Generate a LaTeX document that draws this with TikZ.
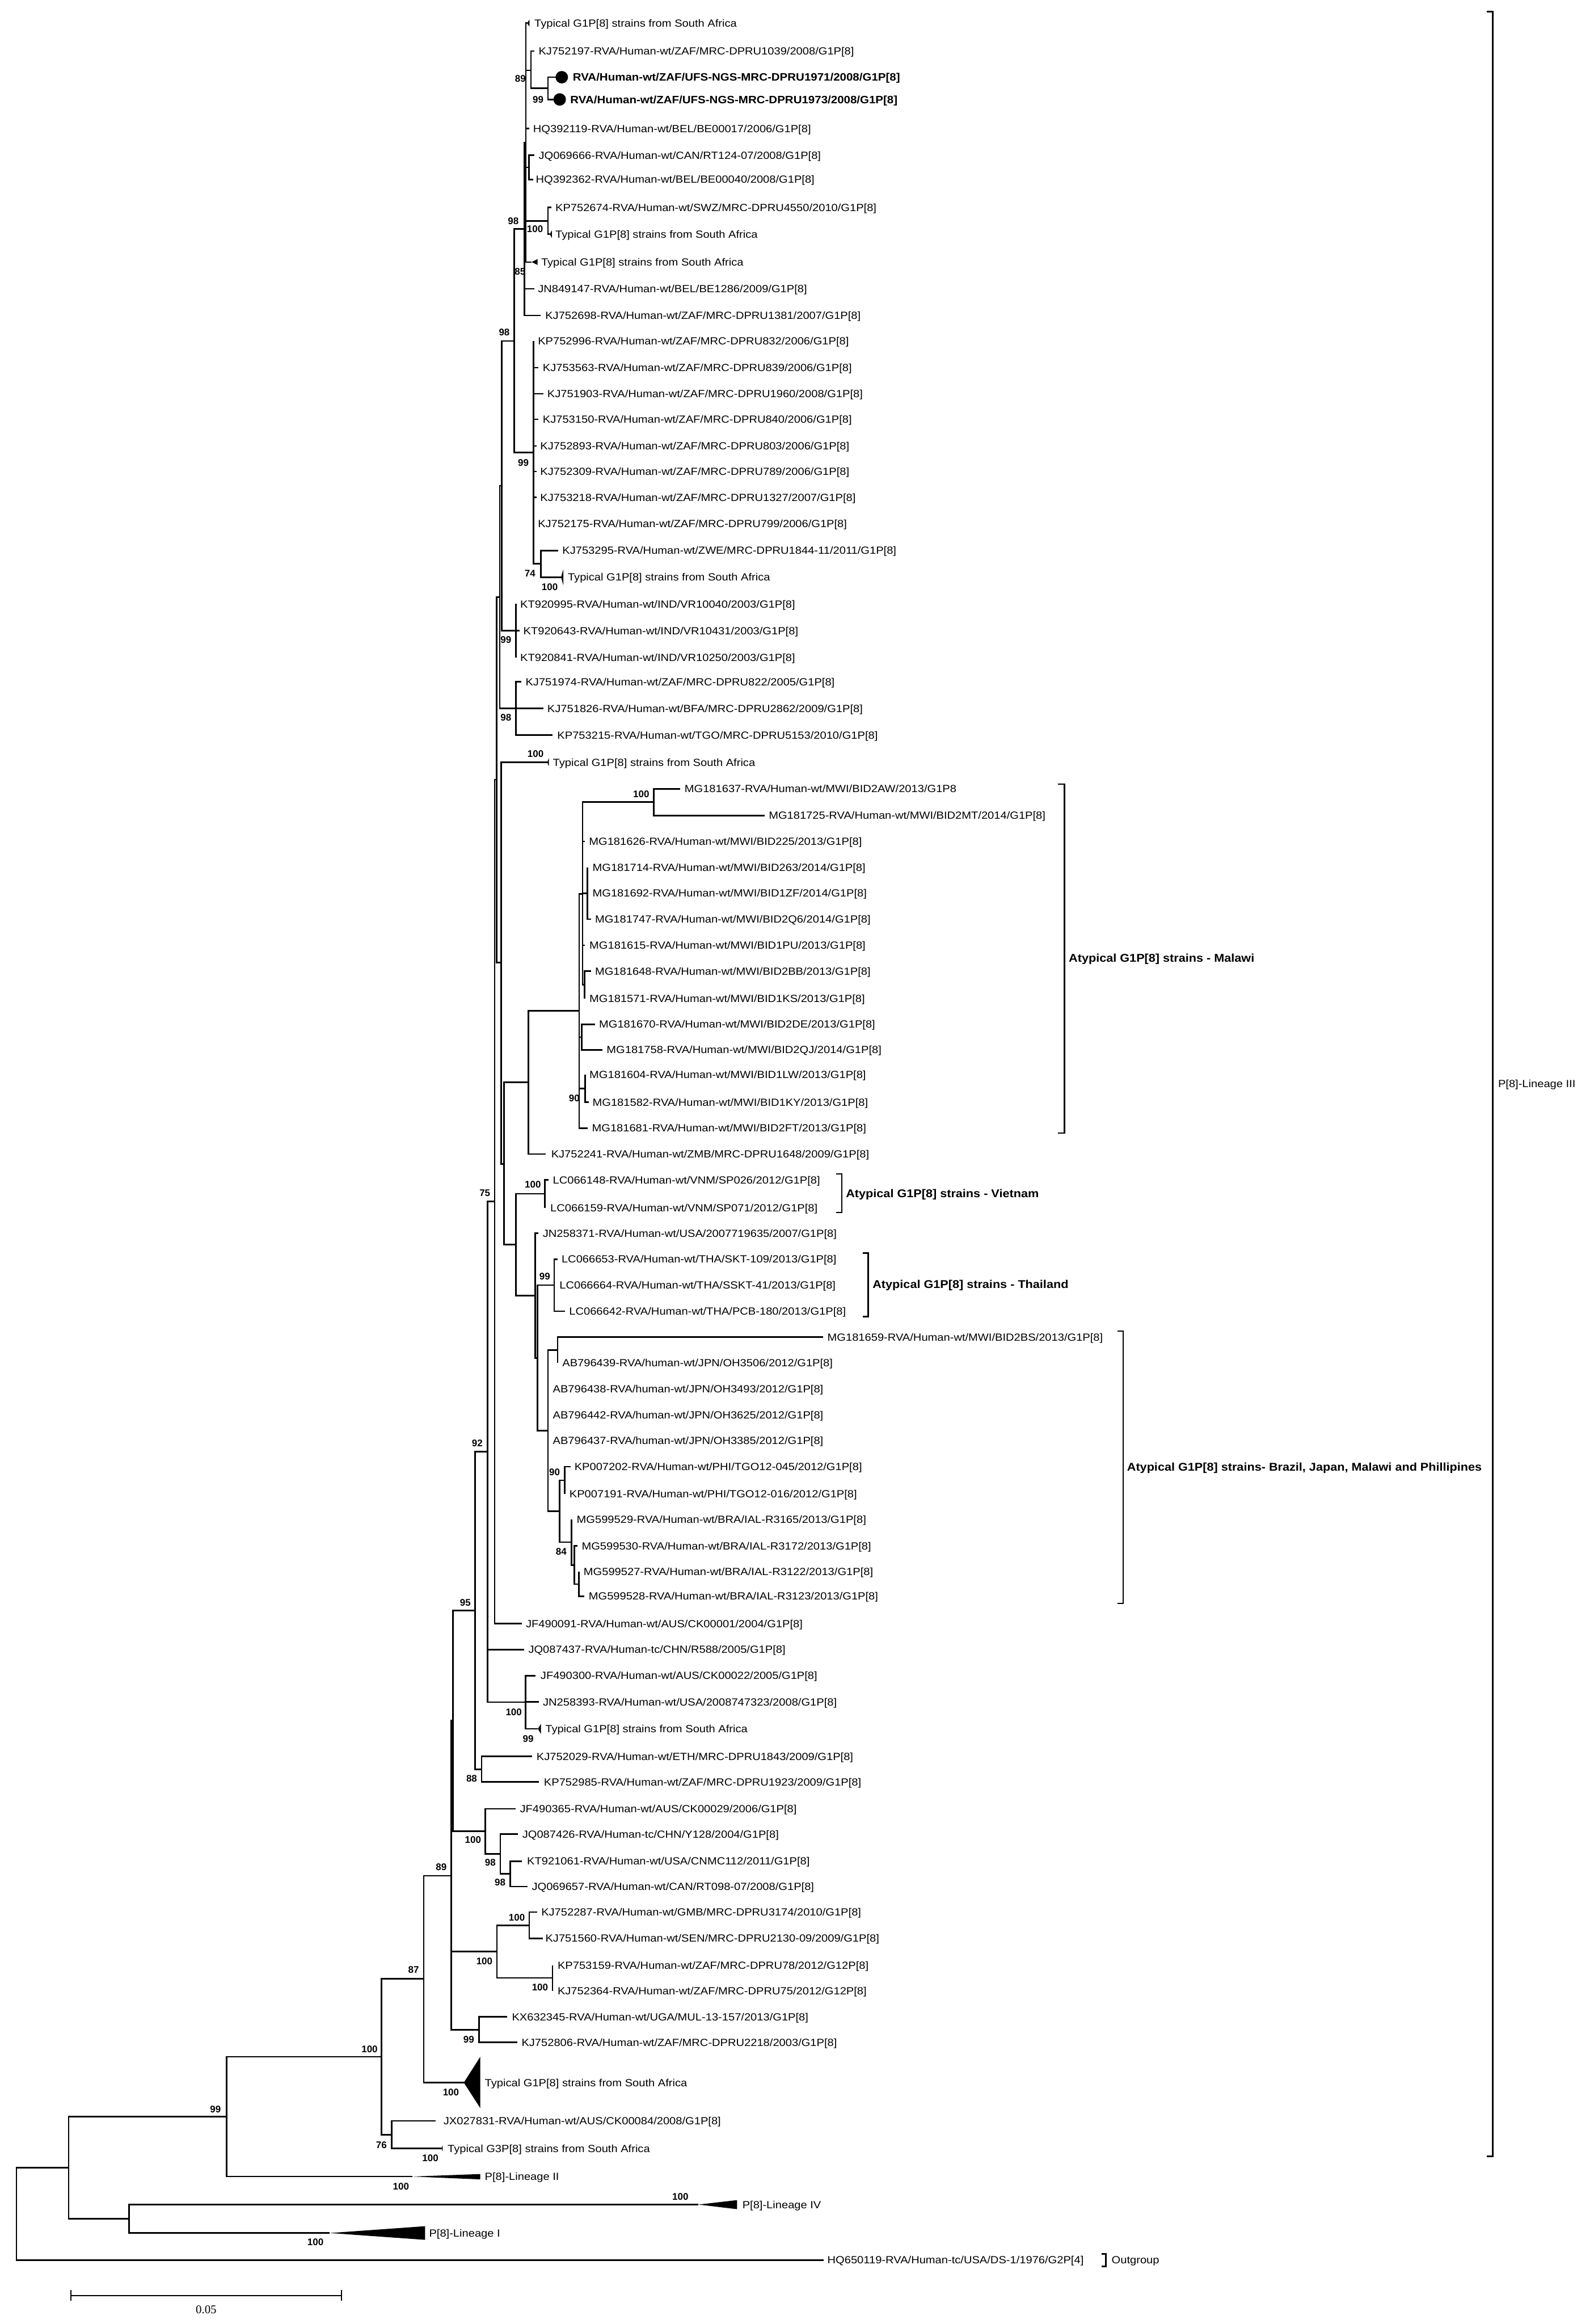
\documentclass[tikz,border=0pt]{standalone}
\usepackage{fontspec}
\setmainfont{Liberation Sans}
\newfontfamily\lfam[FakeStretch=1.1]{Liberation Sans}
\newfontfamily\bfam[FakeStretch=1.09]{Liberation Sans}
\newfontfamily\serfam{Liberation Serif}
\newcommand\leaffont{\lfam\fontsize{7}{8}\selectfont}
\newcommand\cladefont{\bfam\bfseries\fontsize{7.6}{9}\selectfont}
\newcommand\dotfont{\bfam\bfseries\fontsize{7.2}{9}\selectfont}
\newcommand\bsfont{\normalfont\bfseries\fontsize{6.5}{7}\selectfont}
\newcommand\Nd[3]{\coordinate (#1) at (#2,#3);}
\newcommand\Lf[5]{\coordinate (t#1) at (#2,#3);\node[leaflab] (l#1) at (#4,#3) {#5};}
\newcommand\Br[2]{\foreach \cc in {#2}{\draw[br] (#1) |- (\cc);}}
\newcommand\Tri[4]{\fill[tri] (t#1) -- (#2,#3) -- (#2,#4) -- cycle;}
\newcommand\Bs[4]{\node[bs] (#1) at (#2,#3) {#4};}
\begin{document}
\begin{tikzpicture}[x=1pt,y=-1pt,
 br/.style={line width=1pt, line join=miter},
 leaflab/.style={anchor=base west, inner sep=0pt, yshift=-2.5pt, font=\leaffont},
 cladelab/.style={anchor=base west, inner sep=0pt, yshift=-2.7pt, font=\cladefont},
 dotlab/.style={anchor=base west, inner sep=0pt, yshift=-2.6pt, font=\dotfont},
 bs/.style={inner sep=0pt, font=\bsfont},
 tri/.style={black},
 brk/.style={line width=1pt},
 dotc/.style={circle, fill=black, inner sep=0pt, minimum size=8.4pt}]
\useasboundingbox (0,0) rectangle (1075.7,1568);
% ---------- internal nodes ----------
\Nd{A}{354.9}{96.2}
\Nd{n89}{358.3}{47.5}
\Nd{n99a}{369.8}{59.6}
\Nd{nJQ}{356.9}{113}
\Nd{n100a}{369.8}{149}
\Nd{B}{353.8}{154.5}
\Nd{C}{347}{230}
\Nd{D}{360}{305.2}
\Nd{n74}{365}{380.4}
\Nd{E}{338.6}{327.7}
\Nd{nIND}{348.1}{425.5}
\Nd{F}{337.2}{402.8}
\Nd{n98c}{348.1}{478}
\Nd{G}{335.2}{526}
\Nd{I}{338.3}{649.4}
\Nd{K}{340.2}{785.3}
\Nd{H}{356.6}{730.3}
\Nd{M1}{390.9}{681.9}
\Nd{M2}{393.1}{603}
\Nd{n100m}{441.3}{541.2}
\Nd{n714}{396.5}{602.7}
\Nd{n648}{394.5}{664.4}
\Nd{n670}{392.6}{699.7}
\Nd{n90b}{394.8}{734.4}
\Nd{J}{348.1}{839.6}
\Nd{nVN}{367.8}{805.5}
\Nd{N}{361.1}{874.2}
\Nd{O}{362.8}{916.2}
\Nd{nTH}{374}{867.1}
\Nd{P}{369.8}{965.3}
\Nd{Q}{376.3}{910.85}
\Nd{R}{377.7}{1019.7}
\Nd{S}{381.1}{998.8}
\Nd{T}{385.6}{1040.4}
\Nd{U}{387.5}{1055.9}
\Nd{V}{390.7}{1068.75}
\Nd{L}{333.8}{810.5}
\Nd{W}{329}{979.5}
\Nd{X}{354.7}{1148.4}
\Nd{Y2}{320.6}{1086.6}
\Nd{n88}{325}{1193.7}
\Nd{Zn}{305.6}{1160.9}
\Nd{n100j}{327.4}{1235.6}
\Nd{n98a}{337.6}{1250.9}
\Nd{n98b}{344.3}{1264.2}
\Nd{Zp}{304.5}{1265.5}
\Nd{nGMB}{335.4}{1316.6}
\Nd{n100ga}{357.1}{1299}
\Nd{n100gb}{372.9}{1334.5}
\Nd{nKX}{323.2}{1369.4}
\Nd{AA}{286}{1335}
\Nd{AB}{257.4}{1387.7}
\Nd{n76}{264.3}{1440.3}
\Nd{AC}{153}{1428}
\Nd{AE}{87}{1497}
\Nd{AD}{46.3}{1462.4}
\Nd{root}{11.1}{1493.65}
% ---------- leaves ----------
\Lf{typA}{355.6}{15.6}{360.5}{Typical G1P[8] strains from South Africa}
\Lf{kj197}{360.5}{34.4}{363.3}{KJ752197-RVA/Human-wt/ZAF/MRC-DPRU1039/2008/G1P[8]}
\coordinate (td1971) at (375,52.1);
\coordinate (td1973) at (373.5,67.1);
\node[dotc] (c1971) at (379.1,52.1) {};
\node[dotc] (c1973) at (377.7,67.1) {};
\node[dotlab] (ld1971) at (386.4,52.1) {RVA/Human-wt/ZAF/UFS-NGS-MRC-DPRU1971/2008/G1P[8]};
\node[dotlab] (ld1973) at (384.7,67.1) {RVA/Human-wt/ZAF/UFS-NGS-MRC-DPRU1973/2008/G1P[8]};
\Lf{hq119}{357.1}{86.8}{359.6}{HQ392119-RVA/Human-wt/BEL/BE00017/2006/G1P[8]}
\Lf{jq666}{360.5}{104.8}{363.3}{JQ069666-RVA/Human-wt/CAN/RT124-07/2008/G1P[8]}
\Lf{hq362}{359.9}{121.1}{361.4}{HQ392362-RVA/Human-wt/BEL/BE00040/2008/G1P[8]}
\Lf{kp674}{372.1}{140}{374.6}{KP752674-RVA/Human-wt/SWZ/MRC-DPRU4550/2010/G1P[8]}
\Lf{typB}{371.0}{158}{374.6}{Typical G1P[8] strains from South Africa}
\Lf{typC}{358.8}{176.8}{365}{Typical G1P[8] strains from South Africa}
\Lf{jn147}{360.5}{194.8}{362.8}{JN849147-RVA/Human-wt/BEL/BE1286/2009/G1P[8]}
\Lf{kj698}{365}{212.8}{367.8}{KJ752698-RVA/Human-wt/ZAF/MRC-DPRU1381/2007/G1P[8]}
\Lf{kp996}{360}{230}{362.8}{KP752996-RVA/Human-wt/ZAF/MRC-DPRU832/2006/G1P[8]}
\Lf{kj563}{363.3}{248}{366.1}{KJ753563-RVA/Human-wt/ZAF/MRC-DPRU839/2006/G1P[8]}
\Lf{kj903}{366.7}{265.7}{369.2}{KJ751903-RVA/Human-wt/ZAF/MRC-DPRU1960/2008/G1P[8]}
\Lf{kj150}{363.3}{282.9}{366.1}{KJ753150-RVA/Human-wt/ZAF/MRC-DPRU840/2006/G1P[8]}
\Lf{kj893}{362.2}{300.9}{364.4}{KJ752893-RVA/Human-wt/ZAF/MRC-DPRU803/2006/G1P[8]}
\Lf{kj309}{362.2}{318.1}{364.4}{KJ752309-RVA/Human-wt/ZAF/MRC-DPRU789/2006/G1P[8]}
\Lf{kj218}{362.2}{335.6}{364.4}{KJ753218-RVA/Human-wt/ZAF/MRC-DPRU1327/2007/G1P[8]}
\Lf{kj175}{360}{353.3}{362.8}{KJ752175-RVA/Human-wt/ZAF/MRC-DPRU799/2006/G1P[8]}
\Lf{kj295}{376.8}{371.4}{379.3}{KJ753295-RVA/Human-wt/ZWE/MRC-DPRU1844-11/2011/G1P[8]}
\Lf{typD}{378.6}{389.4}{383}{Typical G1P[8] strains from South Africa}
\Lf{kt995}{348.1}{407.5}{350.9}{KT920995-RVA/Human-wt/IND/VR10040/2003/G1P[8]}
\Lf{kt643}{350.6}{425.5}{353}{KT920643-RVA/Human-wt/IND/VR10431/2003/G1P[8]}
\Lf{kt841}{348.1}{443.6}{350.9}{KT920841-RVA/Human-wt/IND/VR10250/2003/G1P[8]}
\Lf{kj974}{351.8}{460}{354.5}{KJ751974-RVA/Human-wt/ZAF/MRC-DPRU822/2005/G1P[8]}
\Lf{kj826}{366.7}{478}{369.2}{KJ751826-RVA/Human-wt/BFA/MRC-DPRU2862/2009/G1P[8]}
\Lf{kp215}{372.9}{496}{375.9}{KP753215-RVA/Human-wt/TGO/MRC-DPRU5153/2010/G1P[8]}
\Lf{typE}{369.3}{514.3}{372.9}{Typical G1P[8] strains from South Africa}
\Lf{mg637}{459}{532.2}{461.8}{MG181637-RVA/Human-wt/MWI/BID2AW/2013/G1P8}
\Lf{mg725}{516.2}{550.2}{518.6}{MG181725-RVA/Human-wt/MWI/BID2MT/2014/G1P[8]}
\Lf{mg626}{394.8}{567.7}{397.3}{MG181626-RVA/Human-wt/MWI/BID225/2013/G1P[8]}
\Lf{mg714}{396.5}{585.2}{399.7}{MG181714-RVA/Human-wt/MWI/BID263/2014/G1P[8]}
\Lf{mg692}{396.5}{602.4}{399.7}{MG181692-RVA/Human-wt/MWI/BID1ZF/2014/G1P[8]}
\Lf{mg747}{398.8}{620.2}{401.4}{MG181747-RVA/Human-wt/MWI/BID2Q6/2014/G1P[8]}
\Lf{mg615}{394.8}{637.7}{397.6}{MG181615-RVA/Human-wt/MWI/BID1PU/2013/G1P[8]}
\Lf{mg648}{398.8}{655.2}{401.4}{MG181648-RVA/Human-wt/MWI/BID2BB/2013/G1P[8]}
\Lf{mg571}{394.5}{673.6}{397.6}{MG181571-RVA/Human-wt/MWI/BID1KS/2013/G1P[8]}
\Lf{mg670}{401.6}{691.1}{404.1}{MG181670-RVA/Human-wt/MWI/BID2DE/2013/G1P[8]}
\Lf{mg758}{406.6}{708.3}{409.2}{MG181758-RVA/Human-wt/MWI/BID2QJ/2014/G1P[8]}
\Lf{mg604}{394.8}{725.2}{397.6}{MG181604-RVA/Human-wt/MWI/BID1LW/2013/G1P[8]}
\Lf{mg582}{397.2}{743.6}{399.7}{MG181582-RVA/Human-wt/MWI/BID1KY/2013/G1P[8]}
\Lf{mg681}{396.5}{761.1}{399.3}{MG181681-RVA/Human-wt/MWI/BID2FT/2013/G1P[8]}
\Lf{kj241}{368.4}{778.6}{371.8}{KJ752241-RVA/Human-wt/ZMB/MRC-DPRU1648/2009/G1P[8]}
\Lf{lc148}{370.1}{796.1}{372.9}{LC066148-RVA/Human-wt/VNM/SP026/2012/G1P[8]}
\Lf{lc159}{367.8}{815}{371.2}{LC066159-RVA/Human-wt/VNM/SP071/2012/G1P[8]}
\Lf{jn371}{363.3}{832.1}{366.1}{JN258371-RVA/Human-wt/USA/2007719635/2007/G1P[8]}
\Lf{lc653}{376.3}{849.6}{378.8}{LC066653-RVA/Human-wt/THA/SKT-109/2013/G1P[8]}
\Lf{lc664}{374}{867.1}{377.4}{LC066664-RVA/Human-wt/THA/SSKT-41/2013/G1P[8]}
\Lf{lc642}{381.1}{884.6}{383.9}{LC066642-RVA/Human-wt/THA/PCB-180/2013/G1P[8]}
\Lf{mg659}{555.5}{902.1}{558.2}{MG181659-RVA/Human-wt/MWI/BID2BS/2013/G1P[8]}
\Lf{ab439}{376.3}{919.6}{379.3}{AB796439-RVA/human-wt/JPN/OH3506/2012/G1P[8]}
\Lf{ab438}{369.8}{937.1}{372.9}{AB796438-RVA/human-wt/JPN/OH3493/2012/G1P[8]}
\Lf{ab442}{369.8}{954.6}{372.9}{AB796442-RVA/human-wt/JPN/OH3625/2012/G1P[8]}
\Lf{ab437}{369.8}{972.1}{372.9}{AB796437-RVA/human-wt/JPN/OH3385/2012/G1P[8]}
\Lf{kp202}{385}{989.6}{387.5}{KP007202-RVA/Human-wt/PHI/TGO12-045/2012/G1P[8]}
\Lf{kp191}{381.1}{1008}{384.1}{KP007191-RVA/Human-wt/PHI/TGO12-016/2012/G1P[8]}
\Lf{mg529}{385.6}{1025}{389}{MG599529-RVA/Human-wt/BRA/IAL-R3165/2013/G1P[8]}
\Lf{mg530}{389.7}{1043}{392.4}{MG599530-RVA/Human-wt/BRA/IAL-R3172/2013/G1P[8]}
\Lf{mg527}{390.7}{1060.5}{393.7}{MG599527-RVA/Human-wt/BRA/IAL-R3122/2013/G1P[8]}
\Lf{mg528}{394.3}{1077}{397.1}{MG599528-RVA/Human-wt/BRA/IAL-R3123/2013/G1P[8]}
\Lf{jf091}{352.3}{1095.5}{354.7}{JF490091-RVA/Human-wt/AUS/CK00001/2004/G1P[8]}
\Lf{jq437}{353.9}{1113}{356.4}{JQ087437-RVA/Human-tc/CHN/R588/2005/G1P[8]}
\Lf{jf300}{361.4}{1130.6}{364.6}{JF490300-RVA/Human-wt/AUS/CK00022/2005/G1P[8]}
\Lf{jn393}{363.5}{1148.3}{366.2}{JN258393-RVA/Human-wt/USA/2008747323/2008/G1P[8]}
\Lf{typF}{363}{1166.4}{367.8}{Typical G1P[8] strains from South Africa}
\Lf{kj029}{359.2}{1185}{361.9}{KJ752029-RVA/Human-wt/ETH/MRC-DPRU1843/2009/G1P[8]}
\Lf{kp985}{363.5}{1202.3}{366.9}{KP752985-RVA/Human-wt/ZAF/MRC-DPRU1923/2009/G1P[8]}
\Lf{jf365}{348}{1220.4}{350.7}{JF490365-RVA/Human-wt/AUS/CK00029/2006/G1P[8]}
\Lf{jq426}{349.4}{1237.5}{352.3}{JQ087426-RVA/Human-tc/CHN/Y128/2004/G1P[8]}
\Lf{kt061}{352.3}{1255.7}{355.5}{KT921061-RVA/Human-wt/USA/CNMC112/2011/G1P[8]}
\Lf{jq657}{356}{1272.8}{358.7}{JQ069657-RVA/Human-wt/CAN/RT098-07/2008/G1P[8]}
\Lf{kj287}{362.4}{1290.1}{365.1}{KJ752287-RVA/Human-wt/GMB/MRC-DPRU3174/2010/G1P[8]}
\Lf{kj560}{366.2}{1307.8}{367.9}{KJ751560-RVA/Human-wt/SEN/MRC-DPRU2130-09/2009/G1P[8]}
\Lf{kp159}{372.9}{1325.9}{376.1}{KP753159-RVA/Human-wt/ZAF/MRC-DPRU78/2012/G12P[8]}
\Lf{kj364}{372.9}{1343.1}{376.1}{KJ752364-RVA/Human-wt/ZAF/MRC-DPRU75/2012/G12P[8]}
\Lf{kx345}{342.3}{1360.8}{345.3}{KX632345-RVA/Human-wt/UGA/MUL-13-157/2013/G1P[8]}
\Lf{kj806}{349.1}{1378}{351.8}{KJ752806-RVA/Human-wt/ZAF/MRC-DPRU2218/2003/G1P[8]}
\Lf{typG}{313}{1405.1}{327}{Typical G1P[8] strains from South Africa}
\Lf{jx831}{293.9}{1431}{299.1}{JX027831-RVA/Human-wt/AUS/CK00084/2008/G1P[8]}
\Lf{gthree}{297.8}{1449.5}{301.9}{Typical G3P[8] strains from South Africa}
\Lf{lintwo}{278.2}{1468.5}{327}{P[8]-Lineage II}
\Lf{linfour}{471.3}{1487.4}{500.8}{P[8]-Lineage IV}
\Lf{linone}{222.6}{1506.6}{289.4}{P[8]-Lineage I}
\Lf{outg}{555.7}{1524.9}{558.2}{HQ650119-RVA/Human-tc/USA/DS-1/1976/G2P[4]}
% ---------- collapsed clades ----------
\Tri{typA}{357.3}{13.3}{17.9}
\Tri{typB}{372.4}{155.5}{160.5}
\Tri{typC}{362.8}{174.8}{178.8}
\Tri{typD}{380.2}{384}{395}
\Tri{typE}{370.4}{511.5}{517}
\Tri{typF}{365.1}{1163}{1170}
\Tri{typG}{324.1}{1387.7}{1422.3}
\Tri{gthree}{298.7}{1447.6}{1451.4}
\Tri{lintwo}{324.1}{1466.8}{1470.4}
\Tri{linfour}{497.4}{1484.4}{1490.5}
\Tri{linone}{286.9}{1502}{1511.2}
% ---------- branches ----------
\Br{A}{ttypA,n89,thq119,nJQ,n100a,ttypC}
\Br{n89}{tkj197,n99a}
\Br{n99a}{td1971,td1973}
\Br{nJQ}{tjq666,thq362}
\Br{n100a}{tkp674,ttypB}
\Br{B}{A,tjn147,tkj698}
\Br{C}{B,D}
\Br{D}{tkp996,tkj563,tkj903,tkj150,tkj893,tkj309,tkj218,tkj175,n74}
\Br{n74}{tkj295,ttypD}
\Br{E}{C,nIND}
\Br{nIND}{tkt995,tkt643,tkt841}
\Br{F}{E,n98c}
\Br{n98c}{tkj974,tkj826,tkp215}
\Br{G}{F,I}
\Br{I}{ttypE,K}
\Br{K}{H,J}
\Br{H}{M1,tkj241}
\Br{M1}{M2,n670,n90b,tmg681}
\Br{M2}{n100m,tmg626,n714,tmg615,n648}
\Br{n100m}{tmg637,tmg725}
\Br{n714}{tmg714,tmg692,tmg747}
\Br{n648}{tmg648,tmg571}
\Br{n670}{tmg670,tmg758}
\Br{n90b}{tmg604,tmg582}
\Br{J}{nVN,N}
\Br{nVN}{tlc148,tlc159}
\Br{N}{tjn371,O}
\Br{O}{nTH,P}
\Br{nTH}{tlc653,tlc664,tlc642}
\Br{P}{Q,tab438,tab442,tab437,R}
\Br{Q}{tmg659,tab439}
\Br{R}{S,T}
\Br{S}{tkp202,tkp191}
\Br{T}{tmg529,U}
\Br{U}{tmg530,V}
\Br{V}{tmg527,tmg528}
\Br{L}{G,tjf091}
\Br{W}{L,tjq437,X}
\Br{X}{tjf300,tjn393,ttypF}
\Br{Y2}{W,n88}
\Br{n88}{tkj029,tkp985}
\Br{Zn}{Y2,n100j}
\Br{n100j}{tjf365,n98a}
\Br{n98a}{tjq426,n98b}
\Br{n98b}{tkt061,tjq657}
\Br{Zp}{Zn,nGMB,nKX}
\Br{nGMB}{n100ga,n100gb}
\Br{n100ga}{tkj287,tkj560}
\Br{n100gb}{tkp159,tkj364}
\Br{nKX}{tkx345,tkj806}
\Br{AA}{Zp,ttypG}
\Br{AB}{AA,n76}
\Br{n76}{tjx831,tgthree}
\Br{AC}{AB,tlintwo}
\Br{AE}{tlinfour,tlinone}
\Br{AD}{AC,AE}
\Br{root}{AD,toutg}
% ---------- bootstrap values ----------
\Bs{b1}{351.2}{53.2}{89}
\Bs{b2}{363.1}{67.1}{99}
\Bs{b3}{361}{154.7}{100}
\Bs{b4}{346.4}{149.3}{98}
\Bs{b5}{351}{183.3}{85}
\Bs{b6}{340.3}{224.3}{98}
\Bs{b7}{353.2}{312.1}{99}
\Bs{b8}{357.7}{386.9}{74}
\Bs{b9}{371}{396}{100}
\Bs{b10}{341.4}{431.6}{99}
\Bs{b11}{341.4}{484}{98}
\Bs{b12}{361.4}{508.8}{100}
\Bs{b13}{432.7}{535.7}{100}
\Bs{b14}{387.5}{740.9}{90}
\Bs{b15}{327.2}{804.9}{75}
\Bs{b16}{359.6}{799}{100}
\Bs{b17}{367.6}{861.3}{99}
\Bs{b18}{374.2}{993.4}{90}
\Bs{b19}{378.7}{1046.9}{84}
\Bs{b20}{322.1}{973.7}{92}
\Bs{b21}{314}{1081.3}{95}
\Bs{b22}{346.7}{1155}{100}
\Bs{b23}{356.4}{1173.3}{99}
\Bs{b24}{318.3}{1199.8}{88}
\Bs{b25}{319.2}{1241.4}{100}
\Bs{b26}{330.9}{1256.7}{98}
\Bs{b27}{337.5}{1270.1}{98}
\Bs{b28}{297.8}{1259.7}{89}
\Bs{b29}{348.8}{1293.6}{100}
\Bs{b30}{326.9}{1323.1}{100}
\Bs{b31}{364.4}{1340.8}{100}
\Bs{b32}{316.3}{1376.1}{99}
\Bs{b33}{279.1}{1329}{87}
\Bs{b34}{249.4}{1382.5}{100}
\Bs{b35}{304.3}{1411.6}{100}
\Bs{b36}{145.4}{1423}{99}
\Bs{b37}{257.4}{1447.1}{76}
\Bs{b38}{290.4}{1456}{100}
\Bs{b39}{270.6}{1475.3}{100}
\Bs{b40}{459.1}{1482.2}{100}
\Bs{b41}{212.9}{1512.8}{100}
% ---------- clade brackets ----------
\draw[brk] (713.8,529) -- (718.3,529) -- (718.3,764.5) -- (713.8,764.5);
\node[cladelab] (kMalawi) at (721.1,646.4) {Atypical G1P[8] strains - Malawi};
\draw[brk] (564.3,792.1) -- (568.1,792.1) -- (568.1,818.1) -- (564.3,818.1);
\node[cladelab] (kVietnam) at (570.7,805.2) {Atypical G1P[8] strains - Vietnam};
\draw[brk] (582.2,845.4) -- (586,845.4) -- (586,888.4) -- (582.2,888.4);
\node[cladelab] (kThai) at (588.7,866.4) {Atypical G1P[8] strains - Thailand};
\draw[line width=0.6pt] (754.2,898.1) -- (757.9,898.1) -- (757.9,1081.8) -- (754.2,1081.8);
\node[cladelab] (kBrazil) at (760.4,989.8) {Atypical G1P[8] strains- Brazil, Japan, Malawi and Phillipines};
\draw[line width=1.2pt] (1003.2,8) -- (1007.3,8) -- (1007.3,1455) -- (1003.2,1455);
\node[leaflab] (kLinIII) at (1010.8,731) {P[8]-Lineage III};
\draw[line width=1.1pt] (743.3,1520.6) -- (746.2,1520.6) -- (746.2,1529.2) -- (743.3,1529.2);
\node[leaflab] (kOut) at (750,1524.9) {Outgroup};
% ---------- scale bar ----------
\coordinate (sbl) at (48,1548.8);
\coordinate (sbr) at (230.6,1548.8);
\draw[line width=0.8pt] (sbl) -- (sbr);
\draw[line width=0.8pt] (48,1545.2) -- (48,1552.4);
\draw[line width=0.8pt] (230.6,1545.2) -- (230.6,1552.4);
\node[inner sep=0pt, font=\serfam\fontsize{8}{9}\selectfont] (sblab) at (139.1,1558.2) {0.05};
\end{tikzpicture}
\end{document}
